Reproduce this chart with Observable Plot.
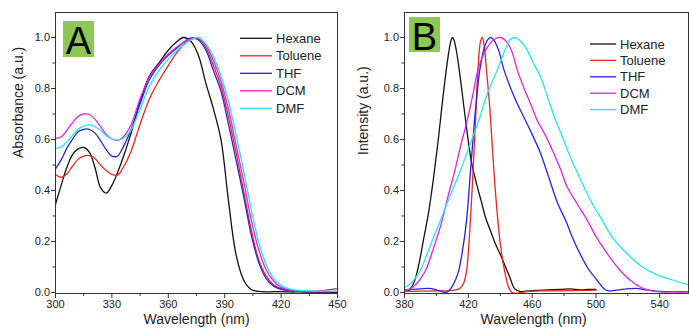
<!DOCTYPE html>
<html>
<head>
<meta charset="utf-8">
<script src="https://cdn.jsdelivr.net/npm/d3@7"></script>
<script src="https://cdn.jsdelivr.net/npm/@observablehq/plot@0.6"></script>
<style>
  html, body { margin: 0; padding: 0; background: #fff; }
  #wrap { position: relative; width: 689px; height: 333px; overflow: hidden; }
  #wrap svg { position: absolute; top: 0; }
</style>
</head>
<body>
<div id="wrap"></div>
<script>
// ---------- shared ----------
const seriesNames = ["Hexane", "Toluene", "THF", "DCM", "DMF"];
const seriesColors = ["#111111", "#ee2424", "#2424dc", "#de24de", "#24e6ee"];

// ---------- Panel A: absorbance ----------
const absWavelength = [300,303,306,309,312,315,318,321,324,327,330,333,336,340,345,350,355,360,364,368,372,376,380,384,388,392,396,400,404,408,412,416,420,425,430,435,440,445,450];
const absHexane  = [0.346,0.42,0.49,0.54,0.563,0.569,0.55,0.49,0.41,0.39,0.42,0.47,0.53,0.62,0.75,0.85,0.90,0.95,0.98,1.0,0.985,0.93,0.82,0.72,0.60,0.36,0.15,0.05,0.012,0.004,0.002,0.003,0.003,0.002,0.002,0.001,0.001,0.001,0.001];
const absToluene = [0.462,0.452,0.465,0.495,0.522,0.535,0.537,0.525,0.50,0.478,0.463,0.46,0.49,0.55,0.66,0.76,0.83,0.89,0.935,0.97,0.995,0.995,0.96,0.89,0.81,0.69,0.55,0.40,0.25,0.13,0.065,0.03,0.015,0.008,0.005,0.005,0.006,0.01,0.016];
const absTHF     = [0.485,0.52,0.565,0.60,0.63,0.64,0.64,0.625,0.595,0.56,0.535,0.535,0.57,0.635,0.74,0.835,0.89,0.93,0.955,0.98,0.998,0.99,0.95,0.87,0.79,0.66,0.52,0.38,0.23,0.12,0.055,0.025,0.012,0.006,0.004,0.003,0.003,0.003,0.003];
const absDCM     = [0.604,0.61,0.635,0.665,0.69,0.70,0.698,0.68,0.65,0.62,0.602,0.597,0.61,0.655,0.76,0.845,0.895,0.935,0.96,0.98,0.995,0.998,0.97,0.91,0.83,0.72,0.58,0.44,0.29,0.17,0.09,0.045,0.02,0.009,0.005,0.004,0.003,0.003,0.003];
const absDMF     = [0.565,0.57,0.59,0.615,0.64,0.652,0.658,0.65,0.635,0.615,0.602,0.598,0.605,0.635,0.72,0.81,0.87,0.915,0.945,0.97,0.99,1.0,0.975,0.925,0.85,0.75,0.62,0.48,0.33,0.20,0.11,0.055,0.028,0.013,0.008,0.006,0.005,0.005,0.005];
const absXTicks = [300,330,360,390,420,450];
const absXMinor = [315,345,375,405,435];

// ---------- Panel B: emission ----------
const emHexaneWl  = [380,383,386,389,392,395,398,401,404,407,409,410,411,413,416,419,422,425,428,431,434,437,440,443,446,449,452,456,462,470,478,484,490,495,500];
const emHexane    = [0.003,0.01,0.04,0.11,0.21,0.31,0.44,0.59,0.76,0.91,0.985,1.0,0.99,0.93,0.79,0.64,0.51,0.43,0.36,0.29,0.24,0.19,0.15,0.105,0.06,0.015,0.004,0.005,0.008,0.01,0.012,0.014,0.01,0.012,0.012];
const emTolueneWl = [380,390,400,408,412,415,417,419,421,423,424.5,426,427.5,428.7,430,431.4,433,434,436,438.5,440.5,442.7,445,447,449,452,456,465,475,485,495,500];
const emToluene   = [0.004,0.005,0.006,0.007,0.01,0.018,0.035,0.09,0.25,0.48,0.675,0.87,0.98,1.0,0.965,0.87,0.76,0.675,0.48,0.283,0.17,0.086,0.025,0.002,-0.003,-0.002,0.003,0.006,0.006,0.007,0.008,0.009];
const emTHFWl     = [380,385,390,395,399,403,406,408,410,412,414,416,418.9,421.4,423.9,425.5,427.2,430,432,434,436,439,442,446,450,455,460,465,470,476,481,485,490,495,500.8,505,508,512,518,525,532,540,550,558];
const emTHF       = [0.01,0.012,0.014,0.016,0.012,0.004,0.0,0.008,0.025,0.05,0.086,0.15,0.283,0.479,0.675,0.78,0.872,0.96,0.99,1.0,0.99,0.95,0.88,0.81,0.75,0.685,0.62,0.55,0.46,0.35,0.283,0.22,0.152,0.095,0.047,0.015,0.006,0.008,0.013,0.016,0.01,0.004,0.003,0.003];
const emDCMWl     = [380,385,389,393.2,398,403.6,407,411.6,415,419.3,423,426,430,434,437,440,443,447,450.7,455,459,463.2,468,473.7,478,482,488,494.6,500,507.1,514,521.7,530,538.5,548,558];
const emDCM       = [0.005,0.02,0.045,0.086,0.17,0.283,0.37,0.479,0.57,0.675,0.78,0.872,0.94,0.98,0.995,1.0,0.99,0.95,0.872,0.80,0.74,0.675,0.62,0.544,0.48,0.414,0.35,0.283,0.22,0.152,0.095,0.047,0.015,0.003,0.002,0.002];
const emDMFWl     = [380,384,387,390,395,398.5,402.6,408,415.1,421,426.6,432,438.1,443,446,448.6,452,456,460,463.2,465.3,470,474.7,479,483.1,488,492.5,498,504,511,519.6,528,538,548.9,558];
const emDMF       = [0.02,0.035,0.058,0.086,0.165,0.22,0.283,0.37,0.479,0.58,0.675,0.78,0.872,0.95,0.99,1.0,0.99,0.96,0.91,0.872,0.846,0.76,0.675,0.61,0.544,0.475,0.414,0.345,0.283,0.21,0.152,0.105,0.07,0.047,0.03];
const emXTicks = [380,420,460,500,540];
const emXMinor = [400,440,480,520];

const yTicks = [0,0.2,0.4,0.6,0.8,1.0];
const yMinor = [0.1,0.3,0.5,0.7,0.9];

// ---------- build tables ----------
const absSeries = [absHexane, absToluene, absTHF, absDCM, absDMF];
const absData = [];
absSeries.forEach((vals, i) => vals.forEach((v, j) => absData.push({series: seriesNames[i], x: absWavelength[j], y: v})));

const emPairs = [[emHexaneWl, emHexane],[emTolueneWl, emToluene],[emTHFWl, emTHF],[emDCMWl, emDCM],[emDMFWl, emDMF]];
const emData = [];
emPairs.forEach(([xs, ys], i) => xs.forEach((x, j) => emData.push({series: seriesNames[i], x, y: ys[j]})));

const FONT = "'Liberation Sans', Arial, Helvetica, sans-serif";
const TXT = "#222";

function panel({data, xDomain, xTicks, xMinor, width, marginLeft, marginRight, yLabel, yLabelDx, yLabelDy, xLabelDx}) {
  return Plot.plot({
    width, height: 333,
    marginLeft, marginRight, marginTop: 12, marginBottom: 40,
    style: {fontFamily: FONT, fontSize: "11px", color: TXT, background: "transparent", overflow: "visible"},
    x: {domain: xDomain},
    y: {domain: [-0.004, 1.098]},
    color: {domain: seriesNames, range: seriesColors},
    marks: [
      Plot.axisX({ticks: xTicks, tickSize: 5, tickPadding: 2, label: null, stroke: "#333", fontSize: 11}),
      Plot.axisX({ticks: xMinor, tickSize: 3, tickFormat: () => "", label: null, stroke: "#333"}),
      Plot.axisY({ticks: yTicks, tickSize: 4, tickPadding: 1.5, tickFormat: d3.format(".1f"), label: null, stroke: "#333", fontSize: 11}),
      Plot.axisY({ticks: yMinor, tickSize: 2.5, tickFormat: () => "", label: null, stroke: "#333"}),
      Plot.line(data, {x: "x", y: "y", z: "series", stroke: "series", curve: "catmull-rom", strokeWidth: 1.3}),
      Plot.frame({stroke: "#333", strokeWidth: 1}),
      Plot.text(["Wavelength (nm)"], {text: d => d, frameAnchor: "bottom", dy: 30, dx: xLabelDx, fontSize: 14, fill: TXT}),
      Plot.text([yLabel], {text: d => d, frameAnchor: "left", rotate: -90, dx: yLabelDx, dy: yLabelDy, fontSize: 14, fill: TXT})
    ]
  });
}

function decorate(svg, {letter, box, baseline, legend}) {
  const s = d3.select(svg);
  s.append("rect").attr("x", box[0]).attr("y", box[1]).attr("width", box[2]).attr("height", box[3]).attr("fill", "#8dc853");
  s.append("text").attr("x", box[0] + box[2] / 2).attr("y", baseline).attr("text-anchor", "middle")
    .attr("font-family", FONT).attr("font-size", 38).attr("fill", "#000").text(letter);
  const g = s.append("g").attr("text-anchor", "start");
  seriesNames.forEach((name, i) => {
    const y = legend.y0 + i * legend.dy;
    g.append("line").attr("x1", legend.x1).attr("x2", legend.x2).attr("y1", y).attr("y2", y)
      .attr("stroke", seriesColors[i]).attr("stroke-width", 1.3);
    g.append("text").attr("x", legend.tx).attr("y", y).attr("dy", "0.35em").attr("text-anchor", "start")
      .attr("font-family", FONT).attr("font-size", 13).attr("fill", TXT).text(name);
  });
}

const wrap = document.getElementById("wrap");

const svgA = panel({data: absData, xDomain: [300, 450], xTicks: absXTicks, xMinor: absXMinor,
  width: 345, marginLeft: 55, marginRight: 8, yLabel: "Absorbance (a.u.)", yLabelDx: -37, yLabelDy: 5, xLabelDx: 0});
svgA.style.left = "0px";
decorate(svgA, {letter: "A", box: [63, 21, 31, 36], baseline: 54, legend: {x1: 240, x2: 272, tx: 276, y0: 38.3, dy: 17.5}});
wrap.appendChild(svgA);

const svgB = panel({data: emData, xDomain: [380, 558], xTicks: emXTicks, xMinor: emXMinor,
  width: 344, marginLeft: 59, marginRight: 1, yLabel: "Intensity (a.u.)", yLabelDx: -41, yLabelDy: 2, xLabelDx: -13});
svgB.style.left = "345px";
decorate(svgB, {letter: "B", box: [64, 17, 31, 35], baseline: 49.5, legend: {x1: 245, x2: 271, tx: 275, y0: 44, dy: 16.4}});
wrap.appendChild(svgB);
</script>
</body>
</html>
